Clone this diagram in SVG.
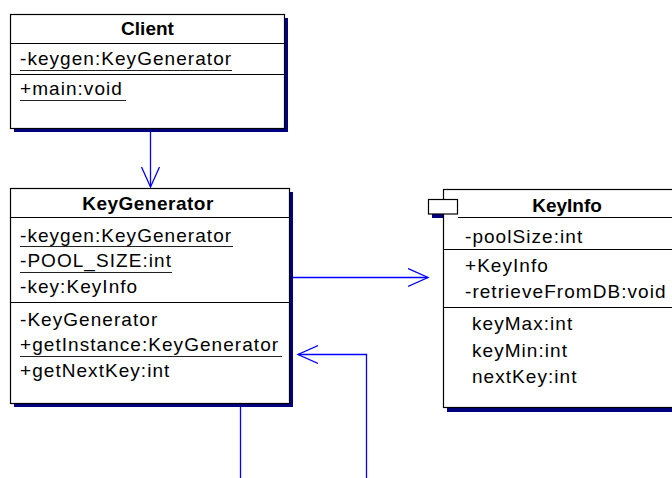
<svg xmlns="http://www.w3.org/2000/svg" width="672" height="478" viewBox="0 0 672 478">
  <style>
    .shadow { fill: #000080; }
    .box { fill: #ffffff; stroke: #000000; stroke-width: 1.2; }
    .sep { stroke: #000000; stroke-width: 1.2; }
    .ul { stroke: #222222; stroke-width: 1; }
    .title { font-family: "Liberation Sans", Arial, sans-serif; font-size: 19px; font-weight: bold; fill: #000; text-anchor: middle; }
    .member { font-family: "Liberation Sans", Arial, sans-serif; font-size: 19px; fill: #000; letter-spacing: 1.05px; }
    .conn { fill: none; stroke: #0000ff; stroke-width: 1.3; }
  </style>
  <defs>
    <marker id="open" markerUnits="userSpaceOnUse" markerWidth="24" markerHeight="22" refX="20" refY="10" orient="auto">
      <path d="M0,1 L20,10 L0,19" fill="none" stroke="#0000ff" stroke-width="1.3"/>
    </marker>
  </defs>
  <rect width="672" height="478" fill="#ffffff"/>

  <!-- Client -->
  <g id="client">
    <rect class="shadow" x="14" y="18" width="274" height="114"/>
    <rect class="box" x="10.5" y="14.5" width="274" height="114"/>
    <text class="title" x="147.5" y="35">Client</text>
    <line class="sep" x1="10.5" y1="43.5" x2="284.5" y2="43.5"/>
    <text class="member" x="20" y="65">-keygen:KeyGenerator</text>
    <line class="ul" x1="20" y1="70.5" x2="232" y2="70.5"/>
    <line class="sep" x1="10.5" y1="74.5" x2="284.5" y2="74.5"/>
    <text class="member" x="20" y="95">+main:void</text>
    <line class="ul" x1="20" y1="100.5" x2="126" y2="100.5"/>
  </g>

  <!-- KeyGenerator -->
  <g id="keygenerator">
    <rect class="shadow" x="14" y="192" width="279" height="215"/>
    <rect class="box" x="10.5" y="188.5" width="279" height="215"/>
    <text class="title" x="148" y="210" letter-spacing="0.5">KeyGenerator</text>
    <line class="sep" x1="10.5" y1="217.5" x2="289.5" y2="217.5"/>
    <text class="member" x="20" y="242">-keygen:KeyGenerator</text>
    <line class="ul" x1="20" y1="246.5" x2="233" y2="246.5"/>
    <text class="member" x="20" y="267">-POOL_SIZE:int</text>
    <line class="ul" x1="20" y1="272.5" x2="172" y2="272.5"/>
    <text class="member" x="20" y="293">-key:KeyInfo</text>
    <line class="sep" x1="10.5" y1="302.5" x2="289.5" y2="302.5"/>
    <text class="member" x="20" y="326">-KeyGenerator</text>
    <text class="member" x="20" y="351">+getInstance:KeyGenerator</text>
    <line class="ul" x1="20" y1="356.5" x2="282" y2="356.5"/>
    <text class="member" x="20" y="377">+getNextKey:int</text>
  </g>

  <!-- KeyInfo -->
  <g id="keyinfo">
    <rect class="shadow" x="432" y="203" width="29" height="15"/>
    <rect class="shadow" x="447" y="194" width="250" height="218"/>
    <rect class="box" x="443.5" y="189.5" width="250" height="218"/>
    <rect class="box" x="428.5" y="199.5" width="29" height="14.5"/>
    <text class="title" x="567" y="212">KeyInfo</text>
    <line class="sep" x1="458" y1="217.5" x2="693.5" y2="217.5"/>
    <text class="member" x="465" y="243">-poolSize:int</text>
    <line class="sep" x1="443.5" y1="249.5" x2="693.5" y2="249.5"/>
    <text class="member" x="465" y="272">+KeyInfo</text>
    <text class="member" x="465" y="298">-retrieveFromDB:void</text>
    <line class="sep" x1="443.5" y1="307.5" x2="693.5" y2="307.5"/>
    <text class="member" x="472" y="330">keyMax:int</text>
    <text class="member" x="472" y="357">keyMin:int</text>
    <text class="member" x="472" y="383">nextKey:int</text>
  </g>

  <!-- Connectors -->
  <g id="connectors">
    <path class="conn" d="M150.5,132 V187" marker-end="url(#open)"/>
    <path class="conn" d="M293,277.5 H428" marker-end="url(#open)"/>
    <path class="conn" d="M366.5,478 V354.5 H298" marker-end="url(#open)"/>
    <path class="conn" d="M240.5,407 V478"/>
  </g>
</svg>
